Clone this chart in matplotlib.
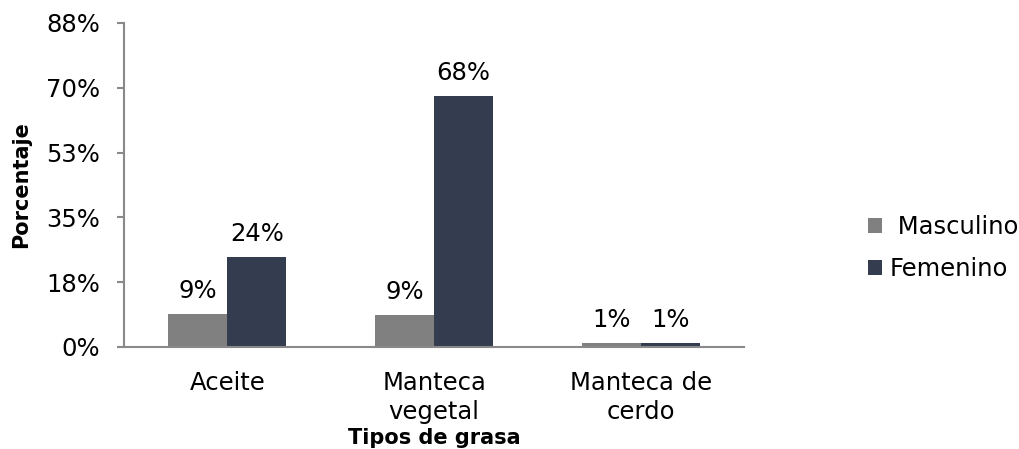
import matplotlib.pyplot as plt
import numpy as np

categorias = ["Aceite", "Manteca\nvegetal", "Manteca de\ncerdo"]
masculino = [8.8, 8.7, 1.1]
femenino = [24.2, 67.8, 1.1]
etiquetas_m = ["9%", "9%", "1%"]
etiquetas_f = ["24%", "68%", "1%"]
yticks = [0, 17.5, 35, 52.5, 70, 87.5]
ytick_labels = ["0%", "18%", "35%", "53%", "70%", "88%"]

plt.rcParams['font.family'] = ['DejaVu Sans']
fs = 17.5

fig = plt.figure(figsize=(10.2, 4.49), dpi=100)
ax = fig.add_axes([0.1216, 0.2272, 0.608, 0.7216])

x = np.arange(len(categorias))
w = 0.285
gris = "#808080"
oscuro = "#333d4f"
b1 = ax.bar(x - w / 2, masculino, w, color=gris, label=" Masculino")
b2 = ax.bar(x + w / 2, femenino, w, color=oscuro, label="Femenino")

for rect, t in zip(b1, etiquetas_m):
    ax.annotate(t, (rect.get_x() + rect.get_width() / 2, rect.get_height()),
                xytext=(0, 8), textcoords="offset points", ha="center", va="bottom", fontsize=fs)
for rect, t in zip(b2, etiquetas_f):
    ax.annotate(t, (rect.get_x() + rect.get_width() / 2, rect.get_height()),
                xytext=(0, 8), textcoords="offset points", ha="center", va="bottom", fontsize=fs)

ax.set_xlim(-0.5, 2.5)
ax.set_ylim(0, 87.5)
ax.set_yticks(yticks)
ax.set_yticklabels(ytick_labels, fontsize=fs)
ax.set_xticks(x)
ax.set_xticklabels(categorias, fontsize=fs, linespacing=1.3)
ax.tick_params(axis="x", length=0, pad=17)
ax.tick_params(axis="y", length=5, color="#898989", width=1.5, pad=12)

for s in ["top", "right"]:
    ax.spines[s].set_visible(False)
for s in ["left", "bottom"]:
    ax.spines[s].set_color("#898989")
    ax.spines[s].set_linewidth(1.5)

ax.set_ylabel("Porcentaje", fontsize=15, fontweight="bold", labelpad=11)
fig.text(434 / 1020, 1 - 438 / 449, "Tipos de grasa", fontsize=15, fontweight="bold",
         ha="center", va="center")

ax.legend(loc="center left", bbox_to_anchor=(1.2, 0.305), frameon=False, fontsize=fs,
          handlelength=0.55, handleheight=0.55, handletextpad=0.35, labelspacing=0.75,
          borderpad=0, borderaxespad=0)

fig.savefig("out.png", dpi=100)
